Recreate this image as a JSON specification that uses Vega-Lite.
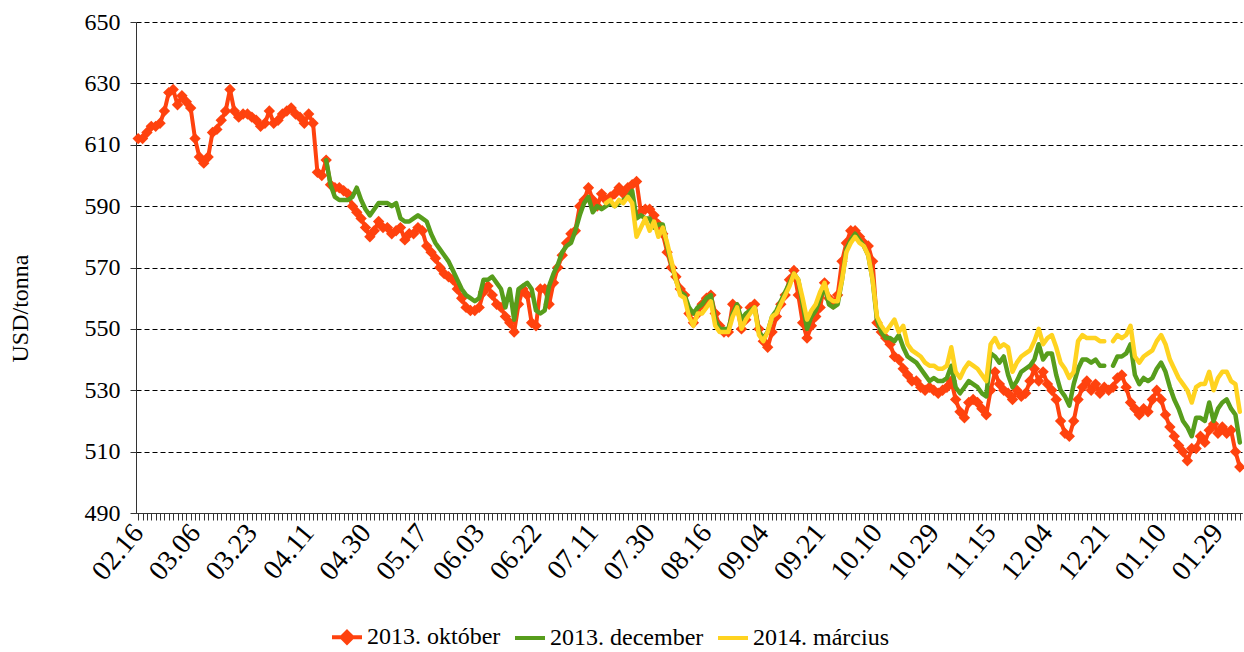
{
"$schema": "https://vega.github.io/schema/vega-lite/v6.json",
"width": 1106, "height": 491,
"autosize": "none",
"padding": {"left": 136, "top": 22, "right": 2, "bottom": 139},
"background": "white",
"config": {"view": {"stroke": null}, "font": "Liberation Serif"},
"data": {"values": [
{"i":0,"d":"02.16","o":612},{"i":1,"d":"02.17","o":612},{"i":2,"d":"02.20","o":614},{"i":3,"d":"02.21","o":616},{"i":4,"d":"02.22","o":616},{"i":5,"d":"02.23","o":617},{"i":6,"d":"02.24","o":621},{"i":7,"d":"02.27","o":627},{"i":8,"d":"02.28","o":628},{"i":9,"d":"02.29","o":623},
{"i":10,"d":"03.01","o":626},{"i":11,"d":"03.02","o":624},{"i":12,"d":"03.05","o":622},{"i":13,"d":"03.06","o":612},{"i":14,"d":"03.07","o":606},{"i":15,"d":"03.08","o":604},{"i":16,"d":"03.09","o":606},{"i":17,"d":"03.12","o":614},{"i":18,"d":"03.13","o":615},{"i":19,"d":"03.14","o":618},
{"i":20,"d":"03.15","o":621},{"i":21,"d":"03.16","o":628},{"i":22,"d":"03.19","o":621},{"i":23,"d":"03.20","o":619},{"i":24,"d":"03.21","o":620},{"i":25,"d":"03.22","o":620},{"i":26,"d":"03.23","o":619},{"i":27,"d":"03.26","o":618},{"i":28,"d":"03.27","o":616},{"i":29,"d":"03.28","o":617},
{"i":30,"d":"03.29","o":621},{"i":31,"d":"03.30","o":617},{"i":32,"d":"04.02","o":618},{"i":33,"d":"04.03","o":620},{"i":34,"d":"04.04","o":621},{"i":35,"d":"04.05","o":622},{"i":36,"d":"04.06","o":620},{"i":37,"d":"04.09","o":619},{"i":38,"d":"04.10","o":617},{"i":39,"d":"04.11","o":620},
{"i":40,"d":"04.12","o":617},{"i":41,"d":"04.13","o":601},{"i":42,"d":"04.16","o":600},{"i":43,"d":"04.17","o":605,"de":605},{"i":44,"d":"04.18","o":597,"de":597},{"i":45,"d":"04.19","o":596,"de":593},{"i":46,"d":"04.20","o":596,"de":592},{"i":47,"d":"04.23","o":595,"de":592},{"i":48,"d":"04.24","o":594,"de":592},{"i":49,"d":"04.25","o":590,"de":593},
{"i":50,"d":"04.26","o":588,"de":596},{"i":51,"d":"04.27","o":586,"de":592},{"i":52,"d":"04.30","o":583,"de":589},{"i":53,"d":"05.01","o":580,"de":587},{"i":54,"d":"05.02","o":582,"de":589},{"i":55,"d":"05.03","o":585,"de":591},{"i":56,"d":"05.04","o":583,"de":591},{"i":57,"d":"05.07","o":583,"de":591},{"i":58,"d":"05.08","o":581,"de":590},{"i":59,"d":"05.09","o":582,"de":591},
{"i":60,"d":"05.10","o":583,"de":586},{"i":61,"d":"05.11","o":579,"de":585},{"i":62,"d":"05.14","o":581,"de":585},{"i":63,"d":"05.15","o":581,"de":586},{"i":64,"d":"05.16","o":583,"de":587},{"i":65,"d":"05.17","o":582,"de":586},{"i":66,"d":"05.18","o":577,"de":585},{"i":67,"d":"05.21","o":575,"de":581},{"i":68,"d":"05.22","o":573,"de":578},{"i":69,"d":"05.23","o":570,"de":576},
{"i":70,"d":"05.24","o":568,"de":574},{"i":71,"d":"05.25","o":567,"de":572},{"i":72,"d":"05.28","o":566,"de":569},{"i":73,"d":"05.29","o":563,"de":566},{"i":74,"d":"05.30","o":560,"de":563},{"i":75,"d":"05.31","o":557,"de":561},{"i":76,"d":"06.01","o":556,"de":560},{"i":77,"d":"06.02","o":556,"de":559},{"i":78,"d":"06.03","o":557,"de":560},{"i":79,"d":"06.04","o":562,"de":566},
{"i":80,"d":"06.05","o":564,"de":566},{"i":81,"d":"06.06","o":561,"de":567},{"i":82,"d":"06.07","o":558,"de":565},{"i":83,"d":"06.08","o":557,"de":563},{"i":84,"d":"06.11","o":554,"de":557},{"i":85,"d":"06.12","o":552,"de":563},{"i":86,"d":"06.13","o":549,"de":553},{"i":87,"d":"06.14","o":558,"de":563},{"i":88,"d":"06.15","o":563,"de":564},{"i":89,"d":"06.18","o":561,"de":565},
{"i":90,"d":"06.19","o":552,"de":563},{"i":91,"d":"06.22","o":551,"de":556},{"i":92,"d":"06.25","o":563,"de":555},{"i":93,"d":"06.26","o":563,"de":556},{"i":94,"d":"06.27","o":558,"de":564},{"i":95,"d":"06.28","o":565,"de":568},{"i":96,"d":"06.29","o":570,"de":571},{"i":97,"d":"07.02","o":574,"de":575},{"i":98,"d":"07.03","o":578,"de":577},{"i":99,"d":"07.04","o":581,"de":578},
{"i":100,"d":"07.05","o":582,"de":582},{"i":101,"d":"07.06","o":590,"de":587},{"i":102,"d":"07.09","o":592,"de":591},{"i":103,"d":"07.10","o":596,"de":593},{"i":104,"d":"07.11","o":592,"de":588},{"i":105,"d":"07.12","o":590,"de":590},{"i":106,"d":"07.13","o":594,"de":589},{"i":107,"d":"07.16","o":592,"de":590,"m":591},{"i":108,"d":"07.17","o":593,"de":591,"m":592},{"i":109,"d":"07.18","o":594,"de":590,"m":590},
{"i":110,"d":"07.19","o":596,"de":591,"m":592},{"i":111,"d":"07.20","o":594,"de":592,"m":591},{"i":112,"d":"07.23","o":596,"de":593,"m":593},{"i":113,"d":"07.24","o":597,"de":595,"m":591},{"i":114,"d":"07.25","o":598,"de":586,"m":580},{"i":115,"d":"07.26","o":588,"de":587,"m":583},{"i":116,"d":"07.27","o":589,"de":586,"m":586},{"i":117,"d":"07.30","o":589,"de":586,"m":582},{"i":118,"d":"07.31","o":587,"de":583,"m":585},{"i":119,"d":"08.01","o":584,"de":584,"m":580},
{"i":120,"d":"08.02","o":581,"de":584,"m":583},{"i":121,"d":"08.03","o":575,"de":577,"m":578},{"i":122,"d":"08.06","o":570,"de":571,"m":572},{"i":123,"d":"08.07","o":567,"de":566,"m":566},{"i":124,"d":"08.08","o":563,"de":562,"m":561},{"i":125,"d":"08.09","o":561,"de":561,"m":560},{"i":126,"d":"08.10","o":555,"de":557,"m":554},{"i":127,"d":"08.13","o":552,"de":555,"m":551},{"i":128,"d":"08.14","o":555,"de":557,"m":555},{"i":129,"d":"08.15","o":558,"de":558,"m":555},
{"i":130,"d":"08.16","o":560,"de":560,"m":557},{"i":131,"d":"08.17","o":561,"de":561,"m":559},{"i":132,"d":"08.20","o":555,"de":553,"m":551},{"i":133,"d":"08.21","o":551,"de":550,"m":549},{"i":134,"d":"08.22","o":549,"de":550,"m":549},{"i":135,"d":"08.23","o":549,"de":550,"m":549},{"i":136,"d":"08.24","o":558,"de":555,"m":554},{"i":137,"d":"08.27","o":557,"de":558,"m":557},{"i":138,"d":"08.28","o":550,"de":553,"m":550},{"i":139,"d":"08.29","o":553,"de":555,"m":553},
{"i":140,"d":"08.30","o":557,"de":556,"m":555},{"i":141,"d":"08.31","o":558,"de":557,"m":557},{"i":142,"d":"09.03","o":550,"de":549,"m":548},{"i":143,"d":"09.04","o":546,"de":547,"m":546},{"i":144,"d":"09.05","o":544,"de":549,"m":549},{"i":145,"d":"09.06","o":549,"de":554,"m":554},{"i":146,"d":"09.07","o":554,"de":556,"m":555},{"i":147,"d":"09.10","o":558,"de":559,"m":558},{"i":148,"d":"09.11","o":561,"de":562,"m":561},{"i":149,"d":"09.12","o":566,"de":565,"m":564},
{"i":150,"d":"09.13","o":569,"de":568,"m":568},{"i":151,"d":"09.14","o":561,"de":566,"m":566},{"i":152,"d":"09.17","o":552,"de":558,"m":560},{"i":153,"d":"09.18","o":547,"de":550,"m":553},{"i":154,"d":"09.19","o":551,"de":554,"m":556},{"i":155,"d":"09.20","o":554,"de":556,"m":558},{"i":156,"d":"09.21","o":557,"de":560,"m":562},{"i":157,"d":"09.24","o":565,"de":564,"m":565},{"i":158,"d":"09.25","o":560,"de":558,"m":560},{"i":159,"d":"09.26","o":558,"de":557,"m":559},
{"i":160,"d":"09.27","o":561,"de":558,"m":559},{"i":161,"d":"09.28","o":572,"de":566,"m":566},{"i":162,"d":"10.01","o":578,"de":576,"m":575},{"i":163,"d":"10.02","o":582,"de":579,"m":578},{"i":164,"d":"10.03","o":582,"de":581,"m":580},{"i":165,"d":"10.04","o":580,"de":579,"m":578},{"i":166,"d":"10.05","o":578,"de":577,"m":577},{"i":167,"d":"10.08","o":577,"de":574,"m":574},{"i":168,"d":"10.09","o":572,"de":566,"m":566},{"i":169,"d":"10.10","o":552,"de":553,"m":554},
{"i":170,"d":"10.11","o":549,"de":549,"m":551},{"i":171,"d":"10.12","o":547,"de":547,"m":549},{"i":172,"d":"10.15","o":545,"de":547,"m":551},{"i":173,"d":"10.16","o":541,"de":546,"m":553},{"i":174,"d":"10.17","o":540,"de":548,"m":549},{"i":175,"d":"10.18","o":537,"de":544,"m":551},{"i":176,"d":"10.19","o":535,"de":541,"m":545},{"i":177,"d":"10.22","o":533,"de":540,"m":543},{"i":178,"d":"10.23","o":533,"de":539,"m":542},{"i":179,"d":"10.24","o":531,"de":537,"m":541},
{"i":180,"d":"10.25","o":530,"de":535,"m":539},{"i":181,"d":"10.26","o":531,"de":533,"m":538},{"i":182,"d":"10.29","o":530,"de":534,"m":538},{"i":183,"d":"10.30","o":529,"de":533,"m":537},{"i":184,"d":"10.31","o":530,"de":533,"m":537},{"i":185,"d":"11.01","o":531,"de":534,"m":538},{"i":186,"d":"11.02","o":533,"de":538,"m":544},{"i":187,"d":"11.05","o":527,"de":531,"m":536},{"i":188,"d":"11.06","o":523,"de":529,"m":534},{"i":189,"d":"11.07","o":521,"de":531,"m":537},
{"i":190,"d":"11.08","o":526,"de":533,"m":539},{"i":191,"d":"11.09","o":527,"de":532,"m":538},{"i":192,"d":"11.12","o":526,"de":531,"m":537},{"i":193,"d":"11.13","o":524,"de":529,"m":535},{"i":194,"d":"11.14","o":522,"de":528,"m":533},{"i":195,"d":"11.15","o":530,"de":542,"m":545},{"i":196,"d":"11.16","o":536,"de":541,"m":547},{"i":197,"d":"11.19","o":532,"de":539,"m":544},{"i":198,"d":"11.20","o":530,"de":541,"m":545},{"i":199,"d":"11.21","o":529,"de":535,"m":544},
{"i":200,"d":"11.22","o":527,"de":531,"m":536},{"i":201,"d":"11.23","o":530,"de":533,"m":539},{"i":202,"d":"11.26","o":528,"de":536,"m":541},{"i":203,"d":"11.27","o":529,"de":537,"m":542},{"i":204,"d":"11.28","o":533,"de":538,"m":543},{"i":205,"d":"11.29","o":537,"de":540,"m":546},{"i":206,"d":"11.30","o":533,"de":545,"m":550},{"i":207,"d":"12.03","o":536,"de":540,"m":545},{"i":208,"d":"12.04","o":532,"de":542,"m":547},{"i":209,"d":"12.05","o":530,"de":542,"m":548},
{"i":210,"d":"12.06","o":527,"de":535,"m":544},{"i":211,"d":"12.07","o":520,"de":530,"m":539},{"i":212,"d":"12.10","o":516,"de":528,"m":537},{"i":213,"d":"12.11","o":515,"de":525,"m":534},{"i":214,"d":"12.12","o":520,"de":532,"m":536},{"i":215,"d":"12.13","o":527,"de":537,"m":546},{"i":216,"d":"12.14","o":531,"de":540,"m":548},{"i":217,"d":"12.17","o":533,"de":540,"m":547},{"i":218,"d":"12.18","o":530,"de":539,"m":547},{"i":219,"d":"12.19","o":532,"de":540,"m":547},
{"i":220,"d":"12.20","o":529,"de":538,"m":546},{"i":221,"d":"12.21","o":531,"de":538,"m":546},{"i":222,"d":"12.24","o":530,"de":null,"m":null},{"i":223,"d":"12.25","o":531,"de":538,"m":546},{"i":224,"d":"12.26","o":534,"de":541,"m":548},{"i":225,"d":"12.27","o":535,"de":541,"m":547},{"i":226,"d":"12.28","o":531,"de":542,"m":548},{"i":227,"d":"12.31","o":526,"de":545,"m":551},{"i":228,"d":"01.02","o":524,"de":535,"m":541},{"i":229,"d":"01.03","o":522,"de":532,"m":539},
{"i":230,"d":"01.04","o":524,"de":534,"m":541},{"i":231,"d":"01.07","o":523,"de":533,"m":542},{"i":232,"d":"01.08","o":527,"de":534,"m":543},{"i":233,"d":"01.09","o":530,"de":537,"m":546},{"i":234,"d":"01.10","o":527,"de":539,"m":548},{"i":235,"d":"01.11","o":522,"de":536,"m":545},{"i":236,"d":"01.14","o":518,"de":531,"m":540},{"i":237,"d":"01.15","o":515,"de":527,"m":537},{"i":238,"d":"01.16","o":512,"de":524,"m":534},{"i":239,"d":"01.17","o":510,"de":520,"m":532},
{"i":240,"d":"01.18","o":507,"de":518,"m":530},{"i":241,"d":"01.21","o":511,"de":515,"m":526},{"i":242,"d":"01.22","o":511,"de":521,"m":531},{"i":243,"d":"01.23","o":515,"de":521,"m":532},{"i":244,"d":"01.24","o":513,"de":520,"m":532},{"i":245,"d":"01.25","o":517,"de":526,"m":536},{"i":246,"d":"01.28","o":519,"de":520,"m":530},{"i":247,"d":"01.29","o":516,"de":524,"m":534},{"i":248,"d":"01.30","o":518,"de":526,"m":536},{"i":249,"d":"01.31","o":516,"de":527,"m":536},
{"i":250,"d":"02.01","o":517,"de":524,"m":533},{"i":251,"d":"02.04","o":510,"de":522,"m":532},{"i":252,"d":"02.05","o":505,"de":513,"m":523}
]},
"encoding": {
  "x": {"field": "d", "type": "ordinal", "sort": {"field": "i", "op": "min"},
        "scale": {"type": "point", "padding": 0.5},
        "axis": {"title": null, "labelAngle": -50, "labelAlign": "right", "labelBaseline": "middle",
                 "labelFont": "Liberation Serif", "labelFontSize": 28, "labelColor": "black", "labelPadding": 8,
                 "labelOverlap": false, "labelBound": false,
                 "labelExpr": "indexof(['02.16','03.06','03.23','04.11','04.30','05.17','06.03','06.22','07.11','07.30','08.16','09.04','09.21','10.10','10.29','11.15','12.04','12.21','01.10','01.29'], datum.value) >= 0 ? datum.value : ''",
                 "ticks": true, "tickSize": 7, "tickColor": "#333333", "tickWidth": 1,
                 "domainColor": "#333333", "domainWidth": 1, "grid": false}}
},
"layer": [
  {"transform": [{"fold": ["o"], "as": ["s", "v"]}],
   "mark": {"type": "line", "strokeWidth": 4, "strokeJoin": "round", "strokeCap": "round", "invalid": "break-paths-filter-domains"},
   "encoding": {
     "y": {"field": "v", "type": "quantitative",
           "scale": {"domain": [490, 650], "nice": false, "zero": false},
           "axis": {"title": "USD/tonna", "values": [490,510,530,550,570,590,610,630,650],
                    "grid": true, "gridDash": [5, 3], "gridColor": "#000000", "gridWidth": 1,
                    "tickSize": 6, "tickColor": "#333333", "domainColor": "#333333",
                    "labelFont": "Liberation Serif", "labelFontSize": 24, "labelColor": "black", "labelPadding": 10,
                    "titleFont": "Liberation Serif", "titleFontSize": 24, "titleFontWeight": "normal", "titleColor": "black",
                    "titleAngle": -90, "titleAlign": "center", "titleBaseline": "middle", "titleX": -116, "titleY": 286}},
     "color": {"field": "s", "type": "nominal",
               "scale": {"domain": ["o", "de", "m"], "range": ["#FF420E", "#579D1C", "#FFD320"]},
               "legend": {"title": null, "orient": "none", "legendX": 194, "legendY": 598, "direction": "horizontal",
                          "symbolType": "stroke", "symbolSize": 900, "symbolStrokeWidth": 4,
                          "labelFont": "Liberation Serif", "labelFontSize": 24, "labelColor": "black", "labelOffset": 3,
                          "labelLimit": 400, "columnPadding": 6, "padding": 0,
                          "labelExpr": "datum.label == 'o' ? '2013. október' : datum.label == 'de' ? '2013. december' : '2014. március'",
                          "encode": {"symbols": {"update": {
                              "shape": {"signal": "datum.value == 'o' ? 'M-1,0H1M0,-0.36L0.36,0L0,0.36L-0.36,0Z' : 'M-1,0H1'"},
                              "fill": {"scale": "color", "field": "value"}}}}}}
   }},
  {"mark": {"type": "point", "shape": "diamond", "filled": true, "size": 130, "opacity": 1, "color": "#FF420E"},
   "encoding": {"y": {"field": "o", "type": "quantitative"}}},
  {"transform": [{"fold": ["de", "m"], "as": ["s", "v"]}],
   "mark": {"type": "line", "strokeWidth": 4.5, "strokeJoin": "round", "strokeCap": "round", "invalid": "break-paths-filter-domains"},
   "encoding": {
     "y": {"field": "v", "type": "quantitative"},
     "color": {"field": "s", "type": "nominal"}
   }}
]
}
